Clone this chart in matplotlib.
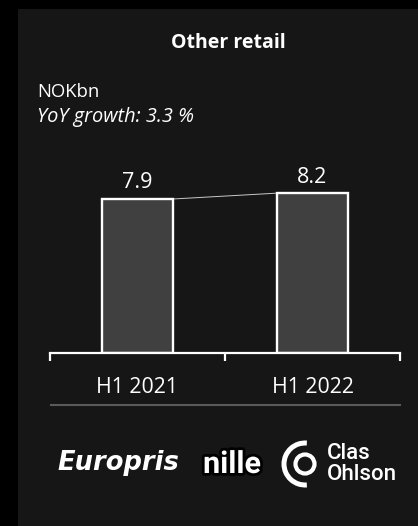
import matplotlib
matplotlib.use("Agg")
import matplotlib.pyplot as plt
from matplotlib.patches import Rectangle, Arc, Circle
from matplotlib.lines import Line2D
import matplotlib.patheffects as pe

# segment revenue, NOKbn
periods = ["H1 2021", "H1 2022"]
revenue = [7.9, 8.2]
title = "Other retail"
unit_label = "NOKbn"
growth_label = "YoY growth: 3.3 %"
brands = ["Europris", "nille", "Clas\nOhlson"]

W, H = 418, 526
panel_color = "#161616"
bar_color = "#404040"
font = "Open Sans"

fig = plt.figure(figsize=(W / 100, H / 100), dpi=100)
fig.patch.set_facecolor("black")


def fx(px):
    return px / W


def fy(py):
    # pixel rows are counted from the top
    return 1 - py / H


# dark card behind everything
fig.patches.append(Rectangle((fx(18), 0), 1 - fx(18), fy(9), transform=fig.transFigure,
                             facecolor=panel_color, edgecolor="none", zorder=-5))

fig.text(fx(228), fy(43), title, color="white", fontsize=14, fontweight="bold",
         family=font, ha="center", va="center")
fig.text(fx(37), fy(92), unit_label, color="white", fontsize=13.3, family=font,
         ha="left", va="center")
fig.text(fx(37), fy(117), growth_label, color="white", fontsize=14.4, family=font,
         style="italic", ha="left", va="center")

# bar chart: x spans 0..2 across 50..400 px, baseline at 353 px
ymax = 9.9
ax = fig.add_axes([fx(50), fy(353), fx(350), (353 - 160) / H])
ax.set_facecolor("none")
ax.set_xlim(0, 2)
ax.set_ylim(0, ymax)

width = 0.406
xs = [0.5, 1.5]
ax.bar(xs, revenue, width=width, color=bar_color, edgecolor="white",
       linewidth=1.7, zorder=2)

for x, v in zip(xs, revenue):
    ax.annotate(f"{v}", (x, v), xytext=(0, 4), textcoords="offset points",
                ha="center", va="bottom", color="white", fontsize=15.5, family=font)

# thin connector between the bar tops
ax.plot([xs[0] + width / 2, xs[1] - width / 2], revenue, color="#c8c8c8",
        linewidth=0.7, zorder=1)

for side in ["left", "right", "top"]:
    ax.spines[side].set_visible(False)
ax.spines["bottom"].set_color("white")
ax.spines["bottom"].set_linewidth(1.6)
ax.set_yticks([])
ax.set_xticks([0, 1, 2])
ax.set_xticklabels([])
ax.tick_params(axis="x", which="major", direction="out", length=6, width=1.6,
               color="white")
ax.set_xticks(xs, minor=True)
ax.set_xticklabels(periods, minor=True)
ax.tick_params(axis="x", which="minor", length=0, pad=17, labelsize=15.3,
               labelcolor="white")
for lbl in ax.get_xticklabels(minor=True):
    lbl.set_family(font)

fig.lines.append(Line2D([fx(51), fx(400)], [fy(405), fy(405)], transform=fig.transFigure,
                        color="#5a5a5a", linewidth=1.5))

# brand marks along the bottom
fig.text(fx(118), fy(463), brands[0], color="white", fontsize=18.5, fontweight="bold",
         style="italic", family=["Liberation Sans Narrow", "DejaVu Sans"],
         ha="center", va="center")
fig.text(fx(232), fy(464), brands[1], color="white", fontsize=22, fontweight="bold",
         family="Roboto", ha="center", va="center",
         path_effects=[pe.withStroke(linewidth=4, foreground="black")])

lax = fig.add_axes([0, 0, 1, 1])
lax.set_xlim(0, W)
lax.set_ylim(H, 0)
lax.axis("off")
lax.add_patch(Arc((305, 464), 42, 42, theta1=85, theta2=275, color="white",
                  linewidth=3.6))
lax.add_patch(Circle((305, 464), 9.5, fill=False, edgecolor="white", linewidth=3))
fig.text(fx(327), fy(464), brands[2], color="white", fontsize=16, family="Roboto",
         fontweight="medium", ha="left", va="center", linespacing=0.95)

fig.savefig("out.png", dpi=100, facecolor=fig.get_facecolor())
